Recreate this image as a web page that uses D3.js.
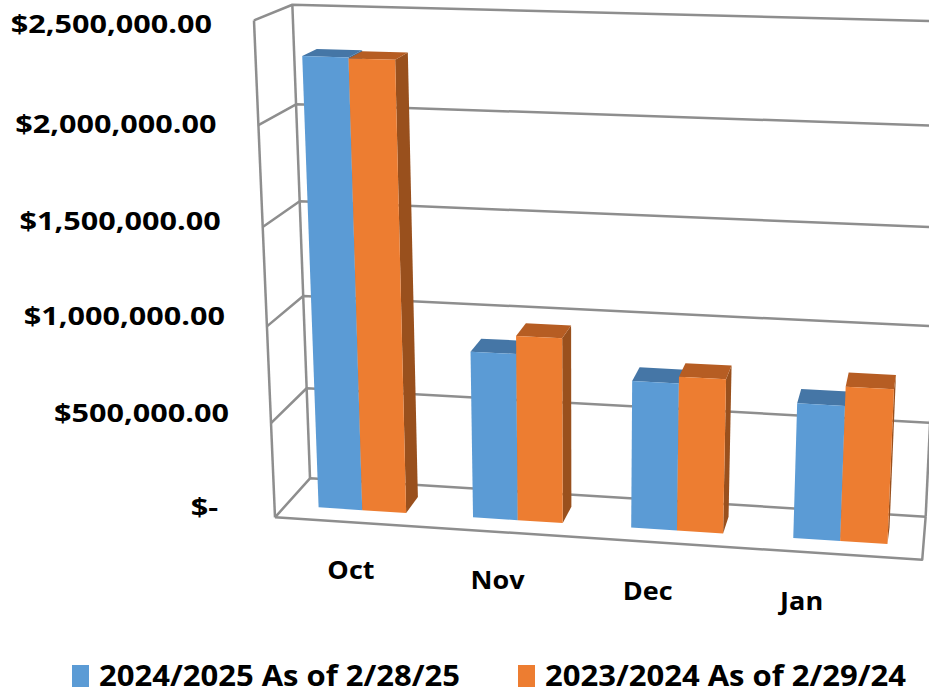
<!DOCTYPE html>
<html>
<head>
<meta charset="utf-8">
<script src="https://cdn.jsdelivr.net/npm/d3@7"></script>
<style>
  html, body { margin: 0; padding: 0; background: #fff; }
  svg { display: block; }
  text { font-family: "Open Sans", Lato, sans-serif; font-weight: 700; fill: #000; }
</style>
</head>
<body>
<svg id="chart" width="929" height="695"></svg>
<script>
const categories = ["Oct", "Nov", "Dec", "Jan"];
const seriesNames = ["2024/2025 As of 2/28/25", "2023/2024 As of 2/29/24"];
const values2425 = [2310000, 871000, 764000, 696000];
const values2324 = [2305000, 963000, 798000, 793000];
const yTicks = [0, 500000, 1000000, 1500000, 2000000, 2500000];

const colors = [
  { front: "#5b9bd5", top: "#4576a6", side: "#3d6b96" },
  { front: "#ed7d31", top: "#b65d23", side: "#99501d" }
];
const gridColor = "#8e8e8e";

// perspective camera, read off the walls of the original
// world: x 0..1 along categories, y 0..1 for the value, z 0 = back wall, 1 = front
const origin = [310, 478.3];
const vpX = [-12558, -324], vpY = [583, 7800], vpZ = [989, -279];
const sX = -0.04566, sY = -0.06075, sZ = -0.04902;

const project = (x, y, z) => {
  const w = 1 + x * sX + y * sY + z * sZ;
  const u = origin[0] + x * sX * vpX[0] + y * sY * vpY[0] + z * sZ * vpZ[0];
  const v = origin[1] + x * sX * vpX[1] + y * sY * vpY[1] + z * sZ * vpZ[1];
  return [u / w, v / w];
};

// stretch text sideways like the original's wide labels
const stretch = (sel, k) => sel.each(function () {
  const n = this.getComputedTextLength();
  d3.select(this).attr("textLength", n * k).attr("lengthAdjust", "spacingAndGlyphs");
});

const svg = d3.select("#chart");

const xScale = d3.scaleBand()
  .domain(categories)
  .range([0, 1])
  .paddingInner(0.43)
  .paddingOuter(0.215);
const subScale = d3.scaleBand()
  .domain([0, 1])
  .range([0, xScale.bandwidth()]);
const yScale = d3.scaleLinear()
  .domain([0, 2500000])
  .range([0, 1]);
const zFront = 0.7, zBack = 0.3;

const line3d = (pts) => d3.line()(pts.map((p) => project(...p)));
const poly3d = (pts) => line3d(pts) + "Z";

// walls and floor
const walls = svg.append("g")
  .attr("fill", "none")
  .attr("stroke", gridColor)
  .attr("stroke-width", 2.5)
  .attr("stroke-linejoin", "round");

yTicks.forEach((t) => {
  const y = yScale(t);
  walls.append("path").attr("d", line3d([[0, y, 1], [0, y, 0], [1, y, 0]]));
});
walls.append("path").attr("d", line3d([[0, 0, 1], [0, 1, 1]]));
walls.append("path").attr("d", line3d([[0, 0, 0], [0, 1, 0]]));
walls.append("path").attr("d", line3d([[1, 0, 0], [1, 1, 0]]));
walls.append("path").attr("d", line3d([[0, 0, 1], [1, 0, 1], [1, 0, 0]]));

// bars
const bars = [];
categories.forEach((c, i) => {
  [values2425[i], values2324[i]].forEach((val, s) => {
    const x0 = xScale(c) + subScale(s);
    const x1 = x0 + subScale.bandwidth();
    bars.push({ x0, x1, y: yScale(val), s });
  });
});

const barG = svg.append("g");
bars.forEach((b) => {
  const g = barG.append("g");
  g.append("path")
    .attr("d", poly3d([[b.x1, 0, zFront], [b.x1, 0, zBack], [b.x1, b.y, zBack], [b.x1, b.y, zFront]]))
    .attr("fill", colors[b.s].side);
  g.append("path")
    .attr("d", poly3d([[b.x0, b.y, zFront], [b.x0, b.y, zBack], [b.x1, b.y, zBack], [b.x1, b.y, zFront]]))
    .attr("fill", colors[b.s].top);
  g.append("path")
    .attr("d", poly3d([[b.x0, 0, zFront], [b.x1, 0, zFront], [b.x1, b.y, zFront], [b.x0, b.y, zFront]]))
    .attr("fill", colors[b.s].front);
});

// value axis labels
const fmt = d3.format("$,.2f");
const yLabels = svg.append("g").attr("font-size", 25.5).attr("text-anchor", "end");
yTicks.forEach((t) => {
  const y = yScale(t);
  const [u, v] = project(0, y, 1);
  const dy = Math.max(-10.6, -10.6 + (y - 0.4) * 24);
  yLabels.append("text")
    .attr("x", u - (t === 0 ? 57 : 42))
    .attr("y", v + dy + 9.2)
    .text(t === 0 ? "$-" : fmt(t));
});
stretch(yLabels.selectAll("text"), 1.2);

// category labels
const xLabels = svg.append("g").attr("font-size", 25.5).attr("text-anchor", "middle");
categories.forEach((c) => {
  const [u, v] = project(xScale(c) + xScale.bandwidth() / 2, 0, 1);
  xLabels.append("text")
    .attr("x", 23.6 + 0.9287 * u)
    .attr("y", v + 47 + 9.2)
    .text(c);
});
stretch(xLabels.selectAll("text"), 1.06);

// legend
const legend = svg.append("g").attr("font-size", 29);
const legendX = [72, 518];
seriesNames.forEach((name, s) => {
  legend.append("rect")
    .attr("x", legendX[s]).attr("y", 665)
    .attr("width", 17).attr("height", 22)
    .attr("fill", colors[s].front);
  legend.append("text")
    .attr("x", legendX[s] + 27)
    .attr("y", 686)
    .attr("textLength", 361)
    .attr("lengthAdjust", "spacingAndGlyphs")
    .text(name);
});
</script>
</body>
</html>
